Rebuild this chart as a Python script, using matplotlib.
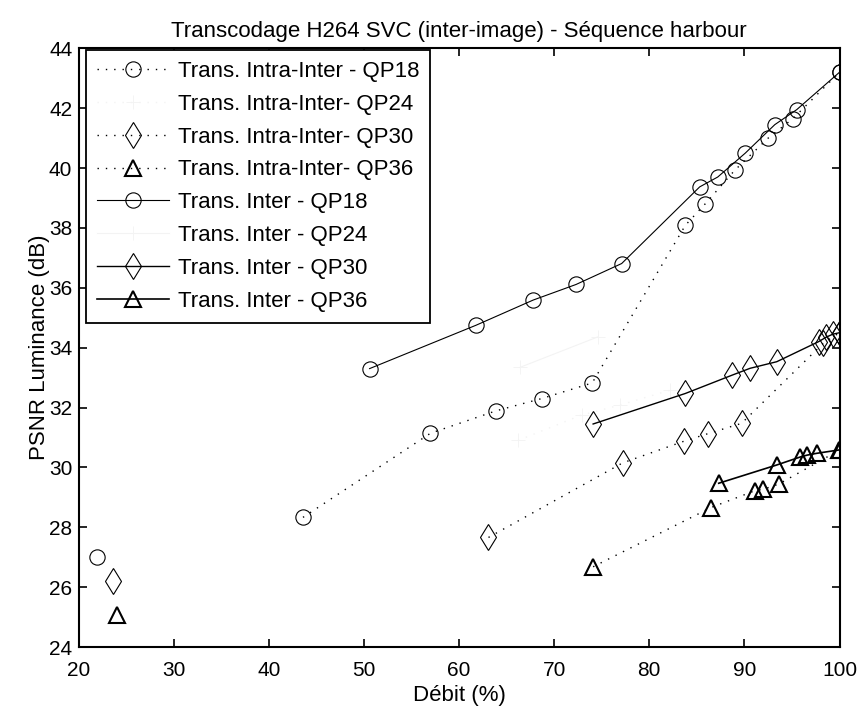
import numpy as np
import matplotlib
matplotlib.use("Agg")
import matplotlib.pyplot as plt

plt.rcParams['font.family'] = ['Liberation Sans', 'DejaVu Sans']

# Trans. Intra-Inter (dotted); the first point of each series stands alone (nan = gap)
intra_qp18_x = [21.9, np.nan, 43.6, 57.0, 63.9, 68.7, 74.0, 83.8, 85.9, 89.0, 92.5, 95.1, 100.0]
intra_qp18_y = [27.0, np.nan, 28.33, 31.14, 31.89, 32.30, 32.82, 38.09, 38.81, 39.93, 41.0, 41.65, 43.2]
intra_qp24_x = [66.2, 72.9, 76.9, 82.2]
intra_qp24_y = [30.9, 31.75, 32.08, 32.58]
intra_qp30_x = [23.6, np.nan, 63.1, 77.2, 83.7, 86.2, 89.7, 98.3, 100.0]
intra_qp30_y = [26.21, np.nan, 27.66, 30.15, 30.88, 31.13, 31.47, 34.15, 34.5]
intra_qp36_x = [24.0, np.nan, 74.1, 86.5, 91.1, 92.0, 93.6, 100.0]
intra_qp36_y = [25.07, np.nan, 26.68, 28.66, 29.22, 29.27, 29.44, 30.58]

# Trans. Inter (solid)
inter_qp18_x = [50.6, 61.8, 67.8, 72.3, 77.1, 85.3, 87.2, 90.1, 93.2, 95.5, 100.0]
inter_qp18_y = [33.3, 34.75, 35.59, 36.11, 36.81, 39.37, 39.70, 40.50, 41.45, 41.95, 43.2]
inter_qp24_x = [66.4, 74.6]
inter_qp24_y = [33.34, 34.36]
inter_qp30_x = [74.1, 83.8, 88.7, 90.6, 93.4, 97.8, 98.6, 99.3, 100.0]
inter_qp30_y = [31.45, 32.47, 33.08, 33.31, 33.53, 34.2, 34.35, 34.45, 34.5]
inter_qp36_x = [87.3, 93.4, 95.9, 96.6, 97.6, 99.9]
inter_qp36_y = [29.47, 30.08, 30.35, 30.41, 30.47, 30.58]

labels = ['Trans. Intra-Inter - QP18', 'Trans. Intra-Inter- QP24',
          'Trans. Intra-Inter- QP30', 'Trans. Intra-Inter- QP36',
          'Trans. Inter - QP18', 'Trans. Inter - QP24',
          'Trans. Inter - QP30', 'Trans. Inter - QP36']

dot = (0, (1, 5))
faint = '#f3f3f3'

fig = plt.figure(figsize=(8.61, 7.10), dpi=100)
ax = fig.add_axes([78.5 / 861, 1 - 647 / 710, 761 / 861, 598.7 / 710])

ax.plot(intra_qp18_x, intra_qp18_y, color='k', ls=dot, lw=1.0, marker='o', ms=11,
        mfc='none', mew=0.8, label=labels[0])
ax.plot(intra_qp24_x, intra_qp24_y, color=faint, ls=dot, lw=1.0, marker='+', ms=10,
        mfc='none', mew=0.6, label=labels[1])
ax.plot(intra_qp30_x, intra_qp30_y, color='k', ls=dot, lw=1.0, marker='d', ms=13,
        mfc='none', mew=0.8, label=labels[2])
ax.plot(intra_qp36_x, intra_qp36_y, color='k', ls=dot, lw=1.0, marker='^', ms=12,
        mfc='none', mew=1.5, label=labels[3])
ax.plot(inter_qp18_x, inter_qp18_y, color='k', ls='-', lw=0.8, marker='o', ms=11,
        mfc='none', mew=0.8, label=labels[4])
ax.plot(inter_qp24_x, inter_qp24_y, color=faint, ls='-', lw=0.8, marker='+', ms=10,
        mfc='none', mew=0.6, label=labels[5])
ax.plot(inter_qp30_x, inter_qp30_y, color='k', ls='-', lw=1.0, marker='d', ms=13,
        mfc='none', mew=0.8, label=labels[6])
ax.plot(inter_qp36_x, inter_qp36_y, color='k', ls='-', lw=1.2, marker='^', ms=12,
        mfc='none', mew=1.5, label=labels[7])

ax.set_xlim(20, 100)
ax.set_ylim(24, 44)
ax.set_xticks(range(20, 101, 10))
ax.set_yticks(range(24, 45, 2))
ax.tick_params(direction='in', length=6, width=1.2, labelsize=15, top=True, right=True)
ax.tick_params(axis='x', pad=10)
ax.tick_params(axis='y', pad=4.5)
for s in ax.spines.values():
    s.set_linewidth(1.5)

ax.set_title('Transcodage H264 SVC (inter-image) - Séquence harbour', fontsize=16, pad=8)
ax.set_xlabel('Débit (%)', fontsize=16, labelpad=4)
ax.set_ylabel('PSNR Luminance (dB)', fontsize=16, labelpad=-1)

leg = ax.legend(loc='upper left', bbox_to_anchor=(7.5 / 761, 597 / 598.7), borderaxespad=0,
                fontsize=16, handlelength=3.24, handletextpad=0.38, labelspacing=0.53,
                borderpad=0.5, fancybox=False, framealpha=1, edgecolor='k')
leg.get_frame().set_linewidth(1.3)

fig.savefig('out.png', dpi=100)
